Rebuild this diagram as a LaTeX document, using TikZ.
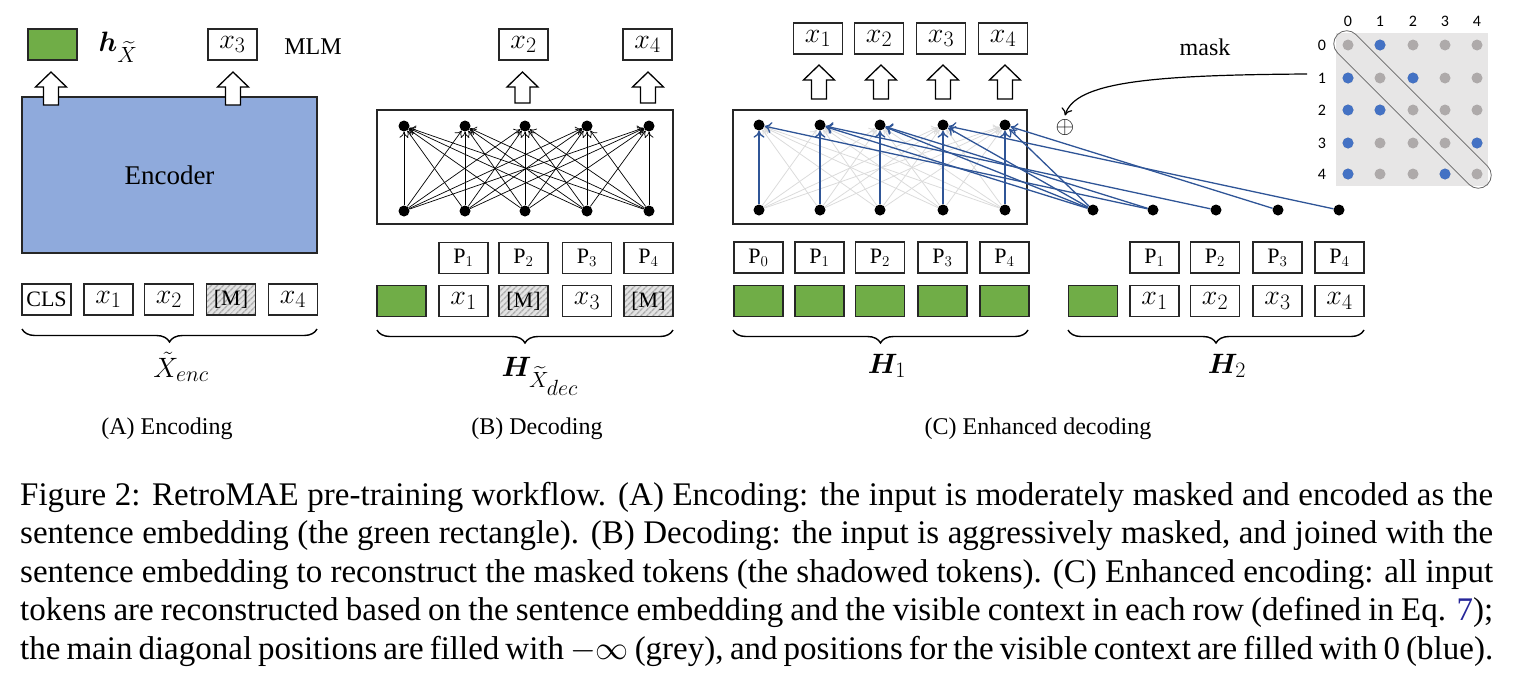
\RequirePackage{fix-cm}
\documentclass[tikz,border=0pt]{standalone}
\usepackage{amsmath,bm}
\usepackage{fontspec}
\setmainfont{Liberation Serif}
\newfontfamily\numfont{Carlito}
\DeclareMathSizes{22}{22}{15}{12}
\DeclareMathSizes{24}{24}{17}{13}
\DeclareMathSizes{26}{26}{19}{15}
\DeclareMathSizes{28}{28}{22}{16}
\DeclareMathSizes{33}{33}{24}{18}
\usetikzlibrary{arrows.meta,decorations.pathreplacing,patterns.meta}
\definecolor{encblue}{HTML}{8FAADC}
\definecolor{embgreen}{HTML}{70AD47}
\definecolor{linkblue}{HTML}{2F5597}
\definecolor{dotblue}{HTML}{4472C4}
\definecolor{dotgrey}{HTML}{AEAAAA}
\definecolor{matbg}{HTML}{E7E6E6}
\definecolor{refblue}{rgb}{0.15,0.15,0.6}
\newcommand\hollowup[3]{\draw[hollow] (#1-15.5,#2+15) -- (#1,#2) -- (#1+15.5,#2+15) -- (#1+7.5,#2+15) -- (#1+7.5,#3) -- (#1-7.5,#3) -- (#1-7.5,#2+15) -- cycle;}
\begin{document}
\begin{tikzpicture}[x=1pt,y=-1pt,
  box/.style={draw=black!85, line width=1.3pt, minimum width=49pt, minimum height=31pt, inner sep=0pt, fill=white},
  tok/.style={box, font=\fontsize{28}{30}\selectfont},
  posbox/.style={box, font=\fontsize{22}{24}\selectfont},
  emb/.style={box, fill=embgreen},
  masked/.style={box, font=\fontsize{22}{24}\selectfont, preaction={fill=gray!22}, pattern={Lines[angle=45,distance=4pt,line width=1.5pt]}, pattern color=gray!65},
  hollow/.style={draw=black, fill=white, line width=1.3pt, line join=miter},
  netbox/.style={draw=black!85, line width=1.6pt, inner sep=0pt},
  dot/.style={circle, fill=black, minimum size=11pt, inner sep=0pt},
  mdot/.style={circle, minimum size=11pt, inner sep=0pt},
  brace/.style={decorate, decoration={brace, amplitude=13pt, mirror}, line width=1.4pt},
  lbl/.style={font=\fontsize{24}{26}\selectfont},
  mlbl/.style={font=\fontsize{28}{30}\selectfont},
  subcap/.style={font=\fontsize{24}{26}\selectfont},
  blk/.style={-{To[length=6pt,width=9pt]}, line width=0.7pt, black},
  gry/.style={-{To[length=6pt,width=9pt]}, line width=0.8pt, black!14},
  blu/.style={-{To[length=7pt,width=11pt]}, line width=1.3pt, linkblue},
  capline/.style={anchor=base west, inner sep=0pt, font=\fontsize{33}{38}\selectfont}
]
\useasboundingbox (0,0) rectangle (1513,681);

% ---------------- (A) Encoding ----------------
\node[box, minimum width=295pt, minimum height=156pt, fill=encblue, line width=1.6pt, font=\fontsize{27}{29}\selectfont] (enc) at (169.5,175) {Encoder};
\hollowup{51}{72}{105}
\hollowup{233}{72}{105}
\node[emb] (hA) at (52.5,44.5) {};
\node[mlbl] (hAl) at (118,47) {$\bm{h}_{\widetilde{X}}$};
\node[tok] (x3A) at (232.5,44.5) {$x_3$};
\node[lbl] (mlm) at (313,47) {MLM};
\node[posbox] (cls) at (46.5,299.5) {CLS};
\node[tok] (a1) at (108.5,299.5) {$x_1$};
\node[tok] (a2) at (169,299.5) {$x_2$};
\node[masked] (a3) at (231,299.5) {[M]};
\node[tok] (a4) at (293,299.5) {$x_4$};
\draw[brace] (22,329) -- (317,329);
\node[mlbl] (xenc) at (181,367) {$\tilde{X}_{enc}$};
\node[subcap] (capA) at (167,429) {(A) Encoding};

% ---------------- (B) Decoding ----------------
\node[netbox, minimum width=296pt, minimum height=114pt] (netB) at (525,167) {};
\foreach \i/\x in {1/404,2/465,3/525,4/587,5/649}{
  \node[dot] (tB\i) at (\x,126) {};
  \node[dot] (bB\i) at (\x,211) {};
}
\foreach \i in {1,...,5}{\foreach \j in {1,...,5}{\draw[blk] (bB\i) -- (tB\j);}}
\hollowup{522.5}{72}{103}
\hollowup{648}{72}{103}
\node[tok] (x2B) at (523.5,44.5) {$x_2$};
\node[tok] (x4B) at (647.5,44.5) {$x_4$};
\node[posbox] (pB1) at (463.5,258) {P$_1$};
\node[posbox] (pB2) at (523.5,258) {P$_2$};
\node[posbox] (pB3) at (587,258) {P$_3$};
\node[posbox] (pB4) at (648.5,258) {P$_4$};
\node[emb] (gB) at (401.5,301) {};
\node[tok] (b1) at (463.5,301) {$x_1$};
\node[masked] (b2) at (523.5,301) {[M]};
\node[tok] (b3) at (587,301) {$x_3$};
\node[masked] (b4) at (648.5,301) {[M]};
\draw[brace] (377,330) -- (673,330);
\node[mlbl] (hdec) at (540,376) {$\bm{H}_{\widetilde{X}_{\scriptstyle dec}}$};
\node[subcap] (capB) at (537,429) {(B) Decoding};

% ---------------- (C) Enhanced decoding ----------------
\node[netbox, minimum width=294pt, minimum height=114pt] (netC) at (880,167) {};
\foreach \i/\x in {0/759,1/820,2/880,3/943,4/1005}{
  \node[dot] (ct\i) at (\x,125) {};
  \node[dot] (cb\i) at (\x,210) {};
}
\foreach \i/\x in {0/1093,1/1153,2/1216,3/1278,4/1339}{
  \node[dot] (hd\i) at (\x,210) {};
}
\foreach \i in {0,...,4}{\foreach \j in {0,...,4}{\draw[gry] (cb\i) -- (ct\j);}}
\foreach \i in {0,...,4}{\draw[blu] (cb\i) -- (ct\i);}
\foreach \j/\i in {0/1,0/2,0/3,0/4,1/0,1/2,2/1,3/4,4/3}{\draw[blu] (hd\j) -- (ct\i);}
\foreach \x in {819,881,943,1005}{\hollowup{\x}{65}{99}}
\node[tok] (c1) at (818,38.5) {$x_1$};
\node[tok] (c2) at (879,38.5) {$x_2$};
\node[tok] (c3) at (941,38.5) {$x_3$};
\node[tok] (c4) at (1003,38.5) {$x_4$};
\foreach \i/\x in {0/758.5,1/819.5,2/880,3/942.5,4/1004.5}{
  \node[posbox] (pC\i) at (\x,257.5) {P$_\i$};
  \node[emb] (gC\i) at (\x,301) {};
}
\node[emb] (gH2) at (1093,301) {};
\foreach \i/\x in {1/1154.5,2/1215,3/1277.5,4/1339.5}{
  \node[posbox] (qC\i) at (\x,257.5) {P$_\i$};
  \node[tok] (yC\i) at (\x,301) {$x_\i$};
}
\draw[brace] (733,330) -- (1028,330);
\draw[brace] (1068,330) -- (1364,330);
\node[mlbl] (h1) at (887,366) {$\bm{H}_1$};
\node[mlbl] (h2) at (1227,366) {$\bm{H}_2$};
\node[subcap] (capC) at (1038,429) {(C) Enhanced decoding};

% mask matrix
\node[fill=matbg, minimum width=152pt, minimum height=153pt, inner sep=0pt] (mat) at (1412,109.5) {};
\foreach \r/\y in {0/45,1/78,2/110,3/143,4/174}{
  \foreach \c/\x in {0/1348,1/1380,2/1413,3/1445,4/1477}{
    \node[mdot, fill=dotgrey] (m\r\c) at (\x,\y) {};
  }
  \node[font=\numfont\fontsize{16}{18}\selectfont] (rl\r) at (1322,\y) {\r};
}
\foreach \c/\x in {0/1348,1/1380,2/1413,3/1445,4/1477}{
  \node[font=\numfont\fontsize{16}{18}\selectfont] (cl\c) at (\x,21) {\c};
}
\foreach \r/\c in {0/1,1/0,1/2,2/0,2/1,3/0,3/4,4/0,4/3}{
  \fill[dotblue] (m\r\c) circle (5.5pt);
}
\node[draw=black!60, line width=0.8pt, rotate=-45, minimum width=212pt, minimum height=26pt, rounded corners=13pt, inner sep=0pt] (diag) at (1412.5,109.5) {};
\node[font=\fontsize{24}{26}\selectfont] (oplus) at (1065,127) {$\oplus$};
\node[lbl] (masklbl) at (1205,47) {mask};
\coordinate (mstart) at (1307,74);
\draw[-{To[length=7pt,width=11pt]}, line width=1.2pt] (mstart) .. controls (1150,75) and (1075,82) .. (oplus.north);

% ---------------- caption ----------------
\node[capline] (l1) at (20,505) {\makebox[1473pt][s]{Figure 2: RetroMAE pre-training workflow. (A) Encoding: the input is moderately masked and encoded as the}};
\node[capline] (l2) at (20,543) {\makebox[1473pt][s]{sentence embedding (the green rectangle). (B) Decoding: the input is aggressively masked, and joined with the}};
\node[capline] (l3) at (20,582) {\makebox[1473pt][s]{sentence embedding to reconstruct the masked tokens (the shadowed tokens). (C) Enhanced encoding: all input}};
\node[capline] (l4) at (20,620) {\makebox[1473pt][s]{tokens are reconstructed based on the sentence embedding and the visible context in each row (defined in Eq. \textcolor{refblue}{7});}};
\node[capline] (l5) at (20,659) {\makebox[1473pt][s]{the main diagonal positions are filled with $-\infty$ (grey), and positions for the visible context are filled with 0 (blue).}};
\end{tikzpicture}
\end{document}
